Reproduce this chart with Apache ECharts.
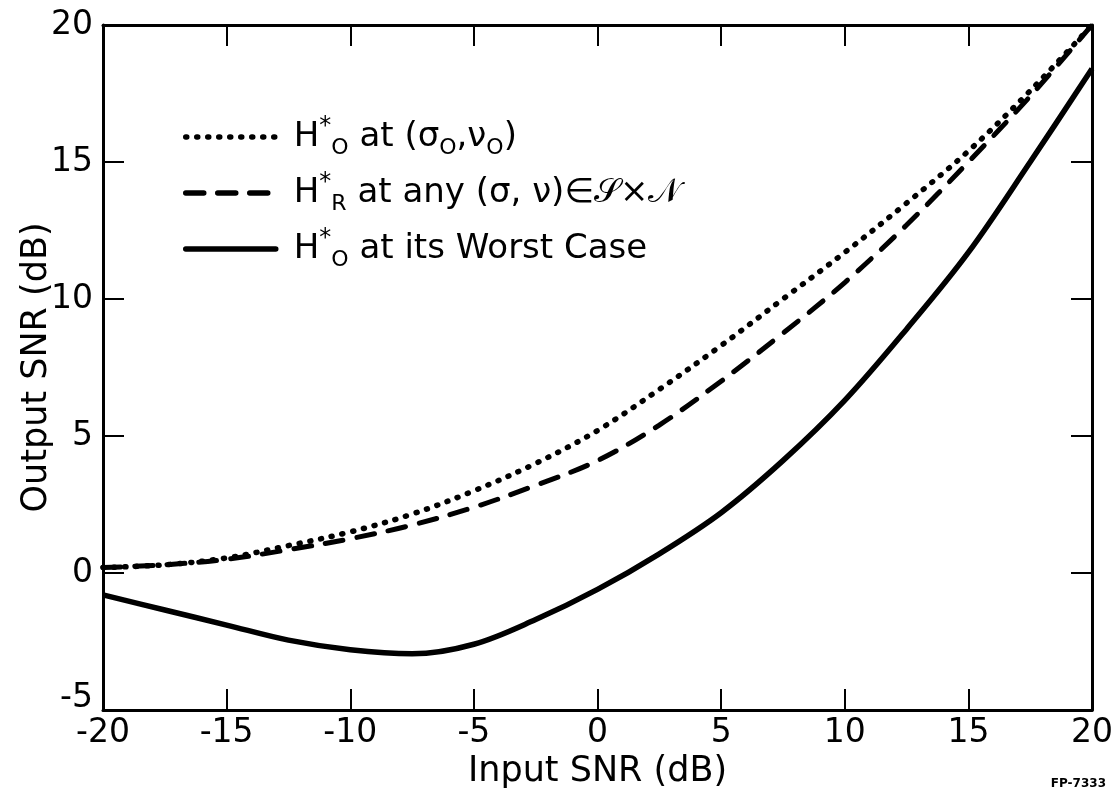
<!DOCTYPE html>
<html><head><meta charset="utf-8">
<script src="https://cdn.jsdelivr.net/npm/echarts/dist/echarts.min.js"></script>
<style>html,body{margin:0;padding:0;background:#fff}#c{width:1114px;height:798px}</style>
</head><body><div id="c"></div>
<script>
const inputSNR = [-20, -17.5, -15, -12.5, -10, -7.5, -5, -2.5, 0, 2.5, 5, 7.5, 10, 12.5, 15, 17.5, 20];
const nominalOut = [0.2, 0.3, 0.55, 1.0, 1.5, 2.15, 3.0, 4.0, 5.2, 6.7, 8.3, 10.0, 11.7, 13.5, 15.4, 17.6, 20.0];
const robustOut  = [0.2, 0.3, 0.5, 0.85, 1.25, 1.75, 2.4, 3.2, 4.1, 5.4, 7.0, 8.75, 10.6, 12.7, 15.0, 17.4, 20.0];
const worstOut   = [-0.8, -1.35, -1.9, -2.45, -2.8, -2.95, -2.6, -1.7, -0.6, 0.7, 2.2, 4.1, 6.3, 8.9, 11.7, 15.0, 18.4];
const seriesNames = ['H*O at (σO,νO)', 'H*R at any (σ, ν)∈𝒮×𝒩', 'H*O at its Worst Case'];
const legendRich = {
  'H*O at (σO,νO)': '{t|H}{sup|*}{sub|O}{t| at (σ}{sub|O}{t|,ν}{sub|O}{t|)}',
  'H*R at any (σ, ν)∈𝒮×𝒩': '{t|H}{sup|*}{sub|R}{t| at any (σ, ν)∈𝒮×𝒩}',
  'H*O at its Worst Case': '{t|H}{sup|*}{sub|O}{t| at its Worst Case}'
};
const xLabel = 'Input SNR (dB)';
const yLabel = 'Output SNR (dB)';
const xMin = -20, xMax = 20, xStep = 5;
const yMin = -5, yMax = 20, yStep = 5;

const FONT = 'DejaVu Sans';
const pairs = arr => inputSNR.map((x, i) => [x, arr[i]]);
const tickStyle = {inside: true, length: 21, lineStyle: {color: '#000', width: 2}};
const lineAxis = {onZero: false, lineStyle: {color: '#000', width: 3}};

const chart = echarts.init(document.getElementById('c'), null, {renderer: 'canvas'});
chart.setOption({
  backgroundColor: '#fff',
  animation: false,
  grid: {left: 103, right: 22, top: 25, bottom: 88, outerBoundsMode: 'none', containLabel: false},
  xAxis: [
    {type: 'value', min: xMin, max: xMax, interval: xStep, position: 'bottom',
     axisLine: lineAxis, axisTick: tickStyle, splitLine: {show: false},
     axisLabel: {fontSize: 33, fontFamily: FONT, color: '#000', margin: 7},
     name: xLabel, nameLocation: 'middle', nameGap: 44, nameMoveOverlap: false,
     nameTextStyle: {fontSize: 35, fontFamily: FONT, color: '#000'}},
    {type: 'value', min: xMin, max: xMax, interval: xStep, position: 'top',
     axisLine: lineAxis, axisTick: tickStyle, splitLine: {show: false}, axisLabel: {show: false}}
  ],
  yAxis: [
    {type: 'value', min: yMin, max: yMax, interval: yStep, position: 'left',
     axisLine: lineAxis, axisTick: tickStyle, splitLine: {show: false},
     axisLabel: {fontSize: 33, fontFamily: FONT, color: '#000', margin: 10,
       formatter: v => v === yMin ? '{low|' + v + '}' : String(v),
       rich: {low: {fontSize: 33, fontFamily: FONT, color: '#000', padding: [0, 0, 24, 0]}}},
     name: yLabel, nameLocation: 'middle', nameGap: 49, nameMoveOverlap: false,
     nameTextStyle: {fontSize: 35, fontFamily: FONT, color: '#000'}},
    {type: 'value', min: yMin, max: yMax, interval: yStep, position: 'right',
     axisLine: lineAxis, axisTick: tickStyle, splitLine: {show: false}, axisLabel: {show: false}}
  ],
  legend: {
    orient: 'vertical', left: 178, top: 110, itemWidth: 90, itemHeight: 14, itemGap: 12,
    data: seriesNames,
    itemStyle: {opacity: 0},
    lineStyle: {width: 5.5, cap: 'round'},
    formatter: n => legendRich[n],
    textStyle: {
      padding: [0, 0, 0, 13],
      rich: {
        t: {fontSize: 34, fontFamily: FONT, color: '#000', lineHeight: 44, verticalAlign: 'middle'},
        sup: {fontSize: 24, fontFamily: FONT, color: '#000', lineHeight: 22, verticalAlign: 'top'},
        sub: {fontSize: 22, fontFamily: FONT, color: '#000', lineHeight: 22, verticalAlign: 'bottom'}
      }
    }
  },
  series: [
    {name: seriesNames[0], type: 'line', data: pairs(nominalOut), smooth: 0.35, symbol: 'none',
     lineStyle: {color: '#000', width: 5.5, type: [1, 10], cap: 'round'}},
    {name: seriesNames[1], type: 'line', data: pairs(robustOut), smooth: 0.35, symbol: 'none',
     lineStyle: {color: '#000', width: 5, type: [18, 14], cap: 'round'}},
    {name: seriesNames[2], type: 'line', data: pairs(worstOut), smooth: 0.35, symbol: 'none',
     lineStyle: {color: '#000', width: 5.5, type: 'solid'}}
  ],
  graphic: [
    {type: 'text', right: 8, bottom: 8,
     style: {text: 'FP-7333', fontSize: 12, fontWeight: 'bold', fontFamily: FONT, fill: '#000'}}
  ]
});
</script>
</body></html>
